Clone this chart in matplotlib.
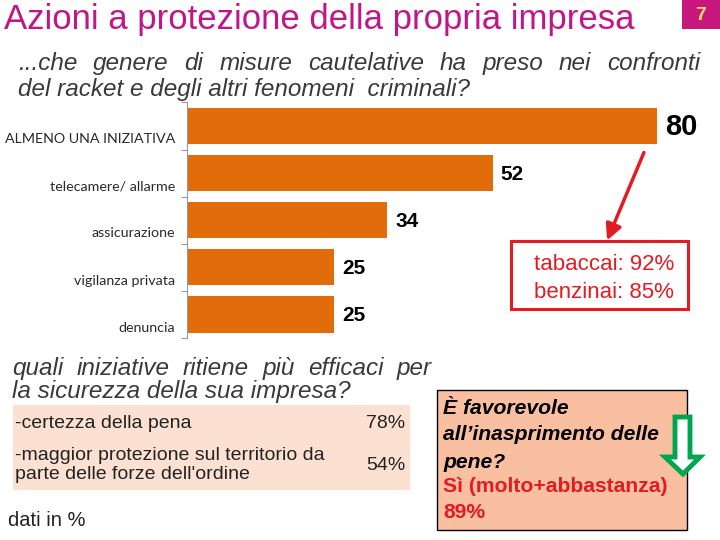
import matplotlib
matplotlib.use("Agg")
import matplotlib.pyplot as plt
from matplotlib.patches import Rectangle, Polygon

# data
categories = ["ALMENO UNA INIZIATIVA", "telecamere/ allarme", "assicurazione",
              "vigilanza privata", "denuncia"]
values = [80, 52, 34, 25, 25]
detail_labels = ["tabaccai: 92%", "benzinai: 85%"]
efficaci_labels = ["-certezza della pena",
                   "-maggior protezione sul territorio da\nparte delle forze dell'ordine"]
efficaci_values = [78, 54]
favorevole = 89

NARROW = ["Liberation Sans Narrow", "Liberation Sans", "DejaVu Sans"]
ARIAL = ["Liberation Sans", "DejaVu Sans"]
ORANGE = "#E36C0A"
MAGENTA = "#C0168A"
GREY = "#3A3A3A"
RED = "#E31B23"

W, H = 720, 540


def px(x, y):
    # pixel position (from top-left) -> figure fraction
    return x / W, 1 - y / H


fig = plt.figure(figsize=(7.2, 5.4), dpi=100)
fig.patch.set_facecolor("white")
renderer = fig.canvas.get_renderer()


def justified(line, x0, x1, y, **kw):
    # spread the words of one line between x0 and x1 (pixels), y is the baseline
    words = line.split()
    texts = [fig.text(0, 0, w, va="baseline", ha="left", **kw) for w in words]
    widths = [t.get_window_extent(renderer).width for t in texts]
    gap = (x1 - x0 - sum(widths)) / max(len(words) - 1, 1)
    x = x0
    for t, wd in zip(texts, widths):
        t.set_position(px(x, y))
        x += wd + gap


# title and page number
fig.text(*px(4, 20), "Azioni a protezione della propria impresa", family=NARROW,
         fontsize=25, color=MAGENTA, va="center", ha="left")
fig.add_artist(Rectangle(px(682, 29), 38 / W, 29 / H, transform=fig.transFigure,
                         facecolor="#C8177F", edgecolor="none"))
fig.text(*px(701, 15), "7", family=ARIAL, fontsize=14, fontweight="bold",
         color="#FFE066", ha="center", va="center")

# question
qstyle = dict(family=ARIAL, style="italic", fontsize=17.5, color=GREY)
justified("...che genere di misure cautelative ha preso nei confronti", 18, 700, 70, **qstyle)
fig.text(*px(18, 96), "del racket e degli altri fenomeni  criminali?", va="baseline", **qstyle)

# bar chart
left, right, top, bottom = 187, 716, 102.5, 338
ax = fig.add_axes([left / W, 1 - bottom / H, (right - left) / W, (bottom - top) / H])
ypos = list(range(len(categories)))
ax.barh(ypos, values, height=0.77, color=ORANGE)
ax.set_xlim(0, 90)
ax.set_ylim(4.5, -0.5)
ax.set_facecolor("none")
for s in ["top", "right", "bottom"]:
    ax.spines[s].set_visible(False)
ax.spines["left"].set_color("#9A9A9A")
ax.spines["left"].set_linewidth(0.8)
ax.set_xticks([])
ax.set_yticks([i - 0.5 for i in range(len(categories) + 1)])
ax.set_yticklabels([])
ax.tick_params(axis="y", length=4, color="#9A9A9A", width=0.8)
for i, (c, v) in enumerate(zip(categories, values)):
    ax.text(-0.022, i + 0.28, c, transform=ax.get_yaxis_transform(), ha="right",
            va="center", family=["Lato", "DejaVu Sans"], fontweight="normal",
            fontsize=10.3, color="#2A2A2A")
    ax.text(v + 1.4, i + 0.02, str(v), ha="left", va="center", family=NARROW,
            fontweight="bold", fontsize=21 if i == 0 else 15, color="black")

# red arrow and callout
ax.annotate("", xy=px(606, 243), xytext=px(645, 150), xycoords="figure fraction",
            textcoords="figure fraction",
            arrowprops=dict(arrowstyle="-|>", color=RED, lw=2.5, mutation_scale=24))
fig.add_artist(Rectangle(px(511, 309), 177 / W, 68 / H, transform=fig.transFigure,
                         facecolor="white", edgecolor=RED, lw=2.2))
for k, t in enumerate(detail_labels):
    fig.text(*px(604, 264 + 28 * k), t, family=ARIAL, fontsize=16, color=RED,
             ha="center", va="center")

# second question
justified("quali iniziative ritiene più efficaci per", 12, 432, 375, **qstyle)
fig.text(*px(12, 398), "la sicurezza della sua impresa?", va="baseline", **qstyle)
fig.add_artist(Rectangle(px(13, 490), 397 / W, 85 / H, transform=fig.transFigure,
                         facecolor="#FCE1D3", edgecolor="none"))
rows_y = [423, 465]
for lab, val, yy in zip(efficaci_labels, efficaci_values, rows_y):
    fig.text(*px(15, yy), lab, family=NARROW, fontsize=14, color="#222222",
             va="center", ha="left", linespacing=1.2)
    fig.text(*px(386, yy), f"{val}%", family=NARROW, fontsize=14, color="#222222",
             va="center", ha="center")

fig.text(*px(8, 521), "dati in %", family=NARROW, fontsize=14.5, color="#222222",
         va="center")

# right box
fig.add_artist(Rectangle(px(437, 530), 250 / W, 140 / H, transform=fig.transFigure,
                         facecolor="#F9BFA1", edgecolor="black", lw=1))
bstyle = dict(family=ARIAL, fontweight="bold", fontsize=15.2, va="center")
fig.text(*px(443, 408), "È favorevole", style="italic", color="black", **bstyle)
fig.text(*px(443, 435), "all’inasprimento delle", style="italic", color="black", **bstyle)
fig.text(*px(443, 462), "pene?", style="italic", color="black", **bstyle)
fig.text(*px(443, 487), "Sì (molto+abbastanza)", color=RED, **bstyle)
fig.text(*px(443, 513), f"{favorevole}%", color=RED, **bstyle)

# green hollow arrow
arrow_pts = [(675, 417), (690, 417), (690, 457), (700, 457), (683, 474),
             (665, 457), (675, 457)]
fig.add_artist(Polygon([px(x, y) for x, y in arrow_pts], closed=True,
                       transform=fig.transFigure, facecolor="white",
                       edgecolor="#00A550", lw=3.5, joinstyle="miter", zorder=5))

fig.savefig("out.png", dpi=100)
